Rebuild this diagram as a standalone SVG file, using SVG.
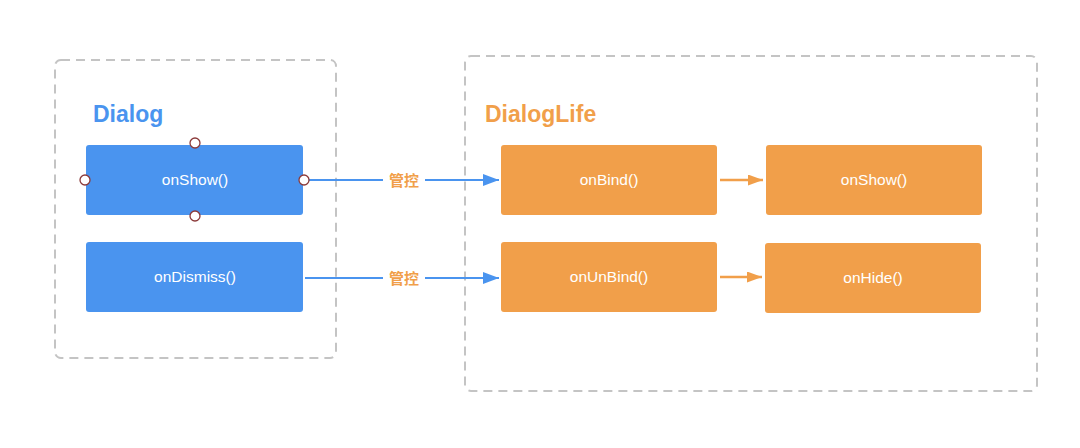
<svg xmlns="http://www.w3.org/2000/svg" width="1080" height="448" viewBox="0 0 1080 448">
<style>
.frame{fill:none;stroke:#c4c4c4;stroke-width:2;stroke-dasharray:9 6}
.blue{fill:#4a94ef}
.orange{fill:#f19f4a}
.lbl{font-family:"Liberation Sans",Arial,sans-serif;font-size:15.5px;fill:#ffffff;text-anchor:middle}
.title{font-family:"Liberation Sans",Arial,sans-serif;font-size:23px;font-weight:bold}
.edge-b{stroke:#4a94ef;stroke-width:2;fill:none}
.edge-o{stroke:#f19f4a;stroke-width:2.5;fill:none}
.elbl{font-family:"Noto Sans CJK SC",sans-serif;font-size:15px;font-weight:bold;fill:#f19f4a;text-anchor:middle}
.port{fill:#ffffff;stroke:#8b3a3a;stroke-width:1.3}
</style>
<defs>
<marker id="ab" markerWidth="16" markerHeight="12" refX="16" refY="6" orient="auto" markerUnits="userSpaceOnUse" viewBox="0 0 16 12"><path d="M0,0 L16,6 L0,12 z" fill="#4a94ef"/></marker>
<marker id="ao" markerWidth="15" markerHeight="11" refX="15" refY="5.5" orient="auto" markerUnits="userSpaceOnUse" viewBox="0 0 15 11"><path d="M0,0 L15,5.5 L0,11 z" fill="#f19f4a"/></marker>
</defs>
<rect width="1080" height="448" fill="#ffffff"/>
<g id="dialog-frame">
<rect class="frame" x="55" y="60" width="281" height="298" rx="6"/>
<text class="title" x="93" y="122" fill="#4a94ef">Dialog</text>
</g>
<g id="dialoglife-frame">
<rect class="frame" x="465" y="56" width="572" height="335" rx="6"/>
<text class="title" x="485" y="122" fill="#f19f4a">DialogLife</text>
</g>
<g id="connectors">
<line class="edge-b" x1="304" y1="180" x2="499" y2="180" marker-end="url(#ab)"/>
<rect x="383" y="170" width="42" height="20" fill="#ffffff"/>
<text class="elbl" x="404" y="186">管控</text>
<line class="edge-b" x1="305" y1="278" x2="499" y2="278" marker-end="url(#ab)"/>
<rect x="383" y="268" width="42" height="20" fill="#ffffff"/>
<text class="elbl" x="404" y="284">管控</text>
<line class="edge-o" x1="720" y1="180" x2="763" y2="180" marker-end="url(#ao)"/>
<line class="edge-o" x1="720" y1="277" x2="762" y2="277" marker-end="url(#ao)"/>
</g>
<g id="onShow">
<rect class="blue" x="86" y="145" width="217" height="70" rx="3"/>
<text class="lbl" x="195" y="185">onShow()</text>
<circle class="port" cx="195" cy="143" r="5"/>
<circle class="port" cx="195" cy="216" r="5"/>
<circle class="port" cx="85" cy="180" r="5"/>
<circle class="port" cx="304" cy="180" r="5"/>
</g>
<g id="onDismiss">
<rect class="blue" x="86" y="242" width="217" height="70" rx="3"/>
<text class="lbl" x="195" y="282">onDismiss()</text>
</g>
<g id="onBind">
<rect class="orange" x="501" y="145" width="216" height="70" rx="3"/>
<text class="lbl" x="609" y="185">onBind()</text>
</g>
<g id="onShow2">
<rect class="orange" x="766" y="145" width="216" height="70" rx="3"/>
<text class="lbl" x="874" y="185">onShow()</text>
</g>
<g id="onUnBind">
<rect class="orange" x="501" y="242" width="216" height="70" rx="3"/>
<text class="lbl" x="609" y="282">onUnBind()</text>
</g>
<g id="onHide">
<rect class="orange" x="765" y="243" width="216" height="70" rx="3"/>
<text class="lbl" x="873" y="283">onHide()</text>
</g>
</svg>
